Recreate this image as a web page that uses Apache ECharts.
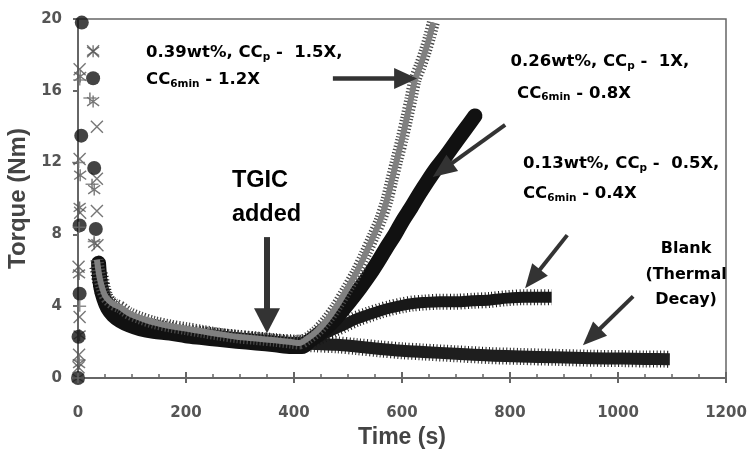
<!DOCTYPE html>
<html><head><meta charset="utf-8">
<script src="https://cdn.jsdelivr.net/npm/echarts@6/dist/echarts.min.js"></script>
<style>html,body{margin:0;padding:0;background:#fff}#c{width:748px;height:450px}</style>
</head><body><div id="c"></div>
<script>
// ---------- data (time s, torque Nm) ----------
const xTickStep = 200, xMaxVal = 1200;
const yTickStep = 4, yMaxVal = 20;

// 0.39 wt% (gray +)
const loadPlus = [[0,0],[2,1.0],[3,4.0],[2,8.4],[1,12.0],[3,16.6],[22,15.6],[26,10.8],[30,7.6]];
const curvePlus = [[35,6.6],[40,5.6],[45,5.0],[50,4.6],[58,4.3],[67,4.1],[78,3.95],[95,3.6],[115,3.35],[140,3.1],[170,2.9],[200,2.75],[230,2.6],[260,2.45],[294,2.3],[330,2.2],[365,2.1],[395,2.0],[410,1.95],[425,2.2],[442,2.6],[460,3.2],[479,4.0],[497,4.9],[516,5.9],[532,6.9],[547,7.9],[560,8.8],[572,9.9],[581,11.0],[590,12.1],[600,13.3],[609,14.5],[617,15.6],[624,16.6],[634,17.4],[643,18.2],[651,19.0],[658,19.8]];

// 0.26 wt% (black circles)
const loadCircle = [[0,0],[1,2.3],[3,4.7],[3,8.5],[6,13.5],[7,19.8],[28,16.7],[30,11.7],[33,8.3]];
const curveCircle = [[38,6.4],[42,5.1],[48,4.4],[55,3.9],[65,3.5],[78,3.2],[95,2.95],[115,2.75],[140,2.6],[170,2.5],[200,2.35],[230,2.25],[260,2.15],[294,2.05],[330,1.95],[365,1.85],[395,1.75],[415,1.75],[430,2.1],[448,2.5],[467,3.0],[485,3.6],[504,4.3],[522,5.0],[541,5.8],[556,6.5],[572,7.3],[587,8.0],[602,8.8],[617,9.5],[633,10.3],[648,11.0],[664,11.7],[682,12.4],[701,13.2],[718,13.9],[735,14.6]];

// 0.13 wt% (asterisk)
const loadStar = [[0,0],[2,0.8],[3,2.4],[2,5.8],[3,9.5],[4,11.3],[4,16.8],[28,18.2],[28,15.4],[30,10.5],[30,7.5]];
const curveStar = [[36,6.2],[41,5.4],[47,4.7],[55,4.2],[65,3.8],[78,3.5],[95,3.25],[115,3.05],[140,2.85],[170,2.7],[200,2.55],[230,2.45],[260,2.35],[294,2.25],[330,2.15],[365,2.05],[400,1.95],[430,2.1],[450,2.35],[473,2.7],[495,3.0],[516,3.3],[540,3.55],[560,3.75],[578,3.9],[600,4.05],[620,4.15],[639,4.2],[670,4.25],[701,4.25],[730,4.3],[763,4.35],[795,4.45],[825,4.5],[850,4.5],[877,4.5]];

// Blank (x)
const loadCross = [[1,0.6],[2,1.3],[3,3.4],[1,6.2],[4,9.2],[3,12.2],[3,17.2],[28,18.2],[35,14.0],[35,11.1],[35,9.3],[36,7.4]];
const curveCross = [[40,5.8],[45,5.0],[50,4.5],[58,4.1],[67,3.8],[78,3.5],[95,3.2],[115,3.0],[140,2.8],[170,2.65],[200,2.5],[230,2.4],[260,2.3],[294,2.2],[330,2.1],[365,2.0],[400,1.95],[440,1.9],[480,1.85],[516,1.75],[560,1.62],[600,1.52],[639,1.45],[700,1.35],[763,1.25],[820,1.2],[886,1.15],[950,1.1],[1010,1.08],[1050,1.06],[1096,1.05]];

// ---------- annotations (data coordinates) ----------
const arrows = [
  {from:[472,16.68], to:[628,16.68], w:4.5, head:23, hw:10.5},
  {from:[791,14.1], to:[657,11.2], w:4, head:24, hw:10},
  {from:[906,7.96], to:[828,5.0], w:4, head:24, hw:10},
  {from:[1028,4.55], to:[935,1.82], w:4, head:24, hw:10},
  {from:[350,7.85], to:[350,2.5], w:6, head:25, hw:13}
];
const notes = [
  {at:[126,18.11], align:'left', text:'{b|0.39wt%, CC}{s|p}{b| -  1.5X,}'},
  {at:[126,16.59], align:'left', text:'{b|CC}{s|6min}{b| - 1.2X}'},
  {at:[801,17.6], align:'left', text:'{b|0.26wt%, CC}{s|p}{b| -  1X,}'},
  {at:[813,15.85], align:'left', text:'{b|CC}{s|6min}{b| - 0.8X}'},
  {at:[824,11.93], align:'left', text:'{b|0.13wt%, CC}{s|p}{b| -  0.5X,}'},
  {at:[824,10.25], align:'left', text:'{b|CC}{s|6min}{b| - 0.4X}'},
  {at:[1126,7.22], align:'center', text:'{m|Blank}'},
  {at:[1126,5.73], align:'center', text:'{m|(Thermal}'},
  {at:[1126,4.33], align:'center', text:'{m|Decay)}'},
  {at:[285,10.98], align:'left', text:'{L|TGIC}'},
  {at:[285,9.08], align:'left', text:'{L|added}'}
];

const FONT = "'Liberation Sans', Arial, sans-serif";
const WFONT = "'DejaVu Sans', Verdana, sans-serif";
const SYM_X = 'path://M0,0L10,10M10,0L0,10';
const SYM_STAR = 'path://M0,0L10,10M10,0L0,10M5,-2L5,12';
const SYM_PLUS = 'path://M0,5L12,5M6,0L6,10';

function bandLine(data, color, width, dash, z, cap){
  return {type:'line', data:data, showSymbol:false, smooth:0.3, silent:true, z:z,
    lineStyle:{color:color, width:width, type:dash||'solid', cap:cap||'butt', join:'round'},
    itemStyle:{color:color}};
}
function pts(data, symbol, size, fill, stroke, bw, z){
  return {type:'scatter', data:data, symbol:symbol, symbolSize:size, silent:true, z:z,
    itemStyle:{color:fill, borderColor:stroke, borderWidth:bw}};
}

const chart = echarts.init(document.getElementById('c'), null, {renderer:'canvas'});
const axisLabelStyle = {fontFamily:WFONT, fontWeight:'bold', fontSize:15, color:'#555',
  formatter:function(v){ return String(v); }};
const option = {
  animation:false,
  backgroundColor:'#fff',
  grid:{left:78, right:22, top:19, bottom:72, containLabel:false, outerBoundsMode:'none',
    show:true, borderColor:'#666', borderWidth:1.5},
  xAxis:[{
    type:'value', min:0, max:xMaxVal, interval:xTickStep, position:'bottom',
    name:'Time (s)', nameLocation:'middle', nameGap:45,
    nameTextStyle:{fontFamily:FONT, fontWeight:'bold', fontSize:23, color:'#444'},
    axisLine:{show:true, lineStyle:{color:'#666', width:2}},
    axisTick:{show:true, inside:true, length:6, lineStyle:{color:'#666', width:2}},
    minorTick:{show:true, splitNumber:4, length:4, lineStyle:{color:'#666', width:1.5}},
    axisLabel:Object.assign({margin:28}, axisLabelStyle),
    splitLine:{show:false}
  },{
    type:'value', min:0, max:xMaxVal, interval:xTickStep, position:'bottom',
    axisLine:{show:false}, axisLabel:{show:false}, splitLine:{show:false},
    axisTick:{show:true, inside:false, length:5, lineStyle:{color:'#666', width:2}}
  }],
  yAxis:{
    type:'value', min:0, max:yMaxVal, interval:yTickStep,
    name:'Torque (Nm)', nameLocation:'middle', nameGap:42,
    nameTextStyle:{fontFamily:FONT, fontWeight:'bold', fontSize:24, color:'#444'},
    axisLine:{show:true, lineStyle:{color:'#666', width:2}},
    axisTick:{show:true, inside:false, length:5, lineStyle:{color:'#666', width:2}},
    axisLabel:Object.assign({margin:16}, axisLabelStyle),
    splitLine:{show:false}
  },
  series:[
    // Blank (x)
    bandLine(curveCross, '#1e1e1e', 17, [1,2.5], 1),
    bandLine(curveCross, '#1e1e1e', 12, 'solid', 1),
    pts(loadCross, SYM_X, 12, 'rgba(0,0,0,0)', '#555', 1.4, 5),
    // 0.13 (asterisk)
    bandLine(curveStar, '#181818', 16, [1,2.5], 2),
    bandLine(curveStar, '#181818', 11, 'solid', 2),
    pts(loadStar, SYM_STAR, 12, 'rgba(0,0,0,0)', '#555', 1.4, 5),
    // 0.26 (circles)
    bandLine(curveCircle, '#111', 15, 'solid', 3, 'round'),
    pts(loadCircle, 'circle', 14, '#151515', '#151515', 0, 6),
    // 0.39 (+)
    bandLine(curvePlus, '#4a4a4a', 13, [1.3,2.0], 4),
    bandLine(curvePlus, '#808080', 6, 'solid', 4),
    pts(loadPlus, SYM_PLUS, [13,11], 'rgba(0,0,0,0)', '#707070', 1.6, 6)
  ]
};
chart.setOption(option);

function px(p){ return chart.convertToPixel({xAxisIndex:0, yAxisIndex:0}, p); }
const graphics = [];
arrows.forEach(function(a){
  const p1 = px(a.from), p2 = px(a.to);
  const dx = p2[0]-p1[0], dy = p2[1]-p1[1], L = Math.hypot(dx,dy);
  const ux = dx/L, uy = dy/L, nx = -uy, ny = ux;
  const bx = p2[0]-ux*a.head, by = p2[1]-uy*a.head;
  graphics.push({type:'line', z:100, silent:true,
    shape:{x1:p1[0], y1:p1[1], x2:bx+ux*2, y2:by+uy*2},
    style:{stroke:'#333', lineWidth:a.w}});
  graphics.push({type:'polygon', z:100, silent:true,
    shape:{points:[[p2[0],p2[1]],[bx+nx*a.hw,by+ny*a.hw],[bx-nx*a.hw,by-ny*a.hw]]},
    style:{fill:'#333'}});
});
const rich = {
  b:{fontFamily:WFONT, fontWeight:'bold', fontSize:16.5, lineHeight:22, verticalAlign:'middle', color:'#2a2a2a'},
  s:{fontFamily:WFONT, fontWeight:'bold', fontSize:10.5, lineHeight:22, verticalAlign:'middle', padding:[8,0,0,0], color:'#2a2a2a'},
  m:{fontFamily:WFONT, fontWeight:'bold', fontSize:16, lineHeight:22, verticalAlign:'middle', color:'#2a2a2a'},
  L:{fontFamily:FONT, fontWeight:'bold', fontSize:23.5, lineHeight:28, verticalAlign:'middle', color:'#2a2a2a'}
};
notes.forEach(function(n){
  const p = px(n.at);
  graphics.push({type:'text', z:101, silent:true, x:p[0], y:p[1],
    style:{text:n.text, rich:rich, align:n.align, verticalAlign:'middle'}});
});
chart.setOption({graphic:graphics});
</script></body></html>
